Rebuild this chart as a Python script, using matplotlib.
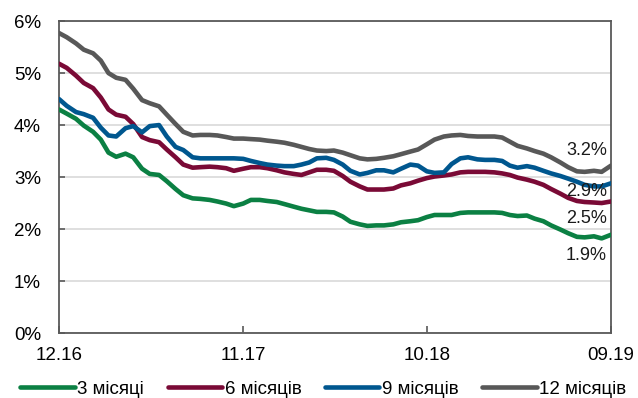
import matplotlib
matplotlib.use("Agg")
import matplotlib.pyplot as plt
import matplotlib.dates as mdates
import pandas as pd

plt.rcParams['font.family'] = ['Liberation Sans', 'DejaVu Sans']

# Semi-monthly observations, Dec 2016 - Sep 2019
dates = pd.date_range('2016-12-01', '2019-09-01', freq='SMS')

rate_3m = [4.30, 4.22, 4.12, 3.99, 3.87, 3.72, 3.47, 3.39, 3.45, 3.38,
           3.16, 3.06, 3.04, 2.92, 2.77, 2.65, 2.59, 2.58, 2.56, 2.53,
           2.49, 2.44, 2.49, 2.56, 2.56, 2.54, 2.52, 2.48, 2.43, 2.39,
           2.36, 2.33, 2.33, 2.32, 2.24, 2.14, 2.09, 2.06, 2.07, 2.07,
           2.09, 2.13, 2.15, 2.17, 2.23, 2.27, 2.27, 2.27, 2.31, 2.32,
           2.32, 2.32, 2.32, 2.31, 2.27, 2.25, 2.26, 2.20, 2.15, 2.07,
           1.99, 1.92, 1.85, 1.84, 1.86, 1.82, 1.89]

rate_6m = [5.18, 5.10, 4.95, 4.81, 4.71, 4.53, 4.30, 4.20, 4.16, 4.02,
           3.77, 3.71, 3.67, 3.53, 3.38, 3.24, 3.18, 3.19, 3.20, 3.19,
           3.17, 3.12, 3.16, 3.19, 3.19, 3.17, 3.13, 3.09, 3.06, 3.04,
           3.09, 3.14, 3.14, 3.12, 3.02, 2.91, 2.82, 2.76, 2.76, 2.76,
           2.78, 2.84, 2.88, 2.93, 2.98, 3.01, 3.03, 3.05, 3.09, 3.10,
           3.10, 3.10, 3.09, 3.07, 3.04, 2.99, 2.95, 2.91, 2.85, 2.77,
           2.68, 2.60, 2.54, 2.52, 2.51, 2.50, 2.53]

rate_9m = [4.50, 4.37, 4.25, 4.21, 4.14, 3.95, 3.80, 3.78, 3.94, 3.98,
           3.86, 3.98, 4.00, 3.78, 3.58, 3.52, 3.38, 3.36, 3.36, 3.36,
           3.36, 3.36, 3.35, 3.31, 3.27, 3.24, 3.22, 3.21, 3.21, 3.24,
           3.28, 3.36, 3.37, 3.33, 3.24, 3.12, 3.05, 3.08, 3.13, 3.13,
           3.09, 3.16, 3.24, 3.22, 3.11, 3.08, 3.09, 3.25, 3.36, 3.38,
           3.34, 3.33, 3.33, 3.31, 3.22, 3.18, 3.21, 3.18, 3.12, 3.07,
           3.02, 2.97, 2.91, 2.85, 2.82, 2.82, 2.88]

rate_12m = [5.77, 5.69, 5.57, 5.45, 5.38, 5.24, 5.00, 4.91, 4.87, 4.70,
            4.48, 4.42, 4.36, 4.20, 4.02, 3.87, 3.80, 3.81, 3.81, 3.80,
            3.77, 3.74, 3.74, 3.73, 3.72, 3.70, 3.68, 3.66, 3.62, 3.58,
            3.54, 3.51, 3.50, 3.51, 3.47, 3.42, 3.36, 3.34, 3.35, 3.37,
            3.40, 3.44, 3.49, 3.53, 3.63, 3.72, 3.78, 3.80, 3.81, 3.79,
            3.78, 3.78, 3.78, 3.76, 3.68, 3.60, 3.55, 3.50, 3.45, 3.38,
            3.28, 3.19, 3.11, 3.10, 3.12, 3.10, 3.22]

series_names = ['3 місяці', '6 місяців', '9 місяців', '12 місяців']
series_colors = ['#0B8043', '#7A0A36', '#00578F', '#585858']
series_values = [rate_3m, rate_6m, rate_9m, rate_12m]
# offsets (points) of the end-value labels from the last point
label_offsets = [(-3, -15), (-3, -12), (-3, -6), (-3, 11)]

tick_dates = pd.to_datetime(['2016-12-01', '2017-11-01', '2018-10-01', '2019-09-01'])
y_ticks = [0, 1, 2, 3, 4, 5, 6]

fig = plt.figure(figsize=(6.38, 3.98), dpi=100)
ax = fig.add_axes([0.0925, 0.1633, 0.8652, 0.7837])

for name, color, vals in zip(series_names, series_colors, series_values):
    ax.plot(dates, vals, color=color, lw=3.3, label=name,
            solid_capstyle='round', solid_joinstyle='round', zorder=3)

for color, vals, off in zip(series_colors, series_values, label_offsets):
    ax.annotate(f'{vals[-1]:.1f}%', xy=(dates[-1], vals[-1]),
                xytext=off, textcoords='offset points',
                ha='right', va='center', fontsize=13, color='#1a1a1a',
                zorder=4)

ax.set_xlim(dates[0], dates[-1])
ax.set_ylim(0, 6)
ax.set_yticks(y_ticks)
ax.set_yticklabels([f'{v}%' for v in y_ticks])
ax.set_xticks(tick_dates)
ax.xaxis.set_major_formatter(mdates.DateFormatter('%m.%y'))

ax.grid(axis='y', color='#D9D9D9', lw=1.2, zorder=0)
for s in ax.spines.values():
    s.set_color('#595959')
    s.set_linewidth(1.3)
ax.tick_params(axis='both', direction='in', color='#595959', width=1.2,
               labelsize=13.5, labelcolor='#000000')
ax.tick_params(axis='x', length=5, pad=10)
ax.tick_params(axis='y', length=4, pad=13)

fig.legend(loc='center', bbox_to_anchor=(0.507, 0.022), ncol=4,
           frameon=False, fontsize=13.5, handlelength=2.9,
           handletextpad=0.15, columnspacing=1.25, borderaxespad=0)

fig.savefig('out.png', dpi=100)
